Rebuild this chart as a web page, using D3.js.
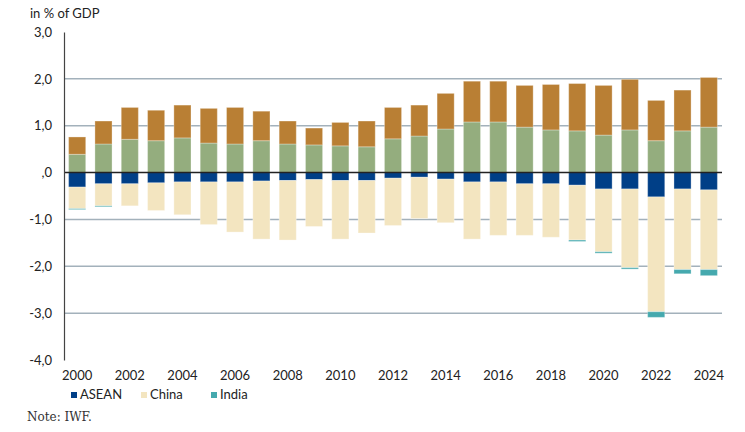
<!DOCTYPE html>
<html>
<head>
<meta charset="utf-8">
<script src="https://cdn.jsdelivr.net/npm/d3@7"></script>
<style>
  body { margin: 0; background: #fff; }
  svg { display: block; }
</style>
</head>
<body>
<div id="chart"></div>
<script>
"use strict";

// Data (segment sizes, in % of GDP)
const years = d3.range(2000, 2025).map(String);
const positiveBase = [0.39, 0.61, 0.71, 0.68, 0.74, 0.63, 0.61, 0.68, 0.61, 0.59, 0.57, 0.55, 0.72,
  0.78, 0.93, 1.08, 1.08, 0.97, 0.91, 0.89, 0.80, 0.91, 0.68, 0.89, 0.97];
const positiveTop = [0.37, 0.49, 0.68, 0.65, 0.70, 0.74, 0.78, 0.63, 0.49, 0.36, 0.50, 0.55, 0.67,
  0.66, 0.76, 0.87, 0.87, 0.89, 0.97, 1.01, 1.06, 1.08, 0.86, 0.87, 1.06];
const asean = [-0.31, -0.24, -0.24, -0.22, -0.20, -0.20, -0.20, -0.18, -0.17, -0.15, -0.17, -0.17, -0.12,
  -0.10, -0.14, -0.20, -0.20, -0.24, -0.24, -0.27, -0.35, -0.35, -0.52, -0.35, -0.37];
const china = [-0.46, -0.47, -0.47, -0.59, -0.70, -0.91, -1.07, -1.24, -1.27, -1.00, -1.25, -1.12, -1.01,
  -0.88, -0.93, -1.22, -1.14, -1.10, -1.14, -1.17, -1.34, -1.68, -2.45, -1.72, -1.70];
const india = [-0.02, -0.02, 0, 0, 0, 0, 0, 0, 0, 0, 0, 0, 0,
  0, 0, 0, 0, 0, 0, -0.03, -0.03, -0.03, -0.12, -0.09, -0.13];

const yTicks = [3, 2, 1, 0, -1, -2, -3, -4];
const yTickLabels = ["3,0", "2,0", "1,0", ",0", "-1,0", "-2,0", "-3,0", "-4,0"];
const xTickYears = years.filter((d, i) => i % 2 === 0);

const legendNames = ["ASEAN", "China", "India"];

// Series in stacking order (positive upwards, negative downwards)
const series = [
  { key: "positiveBase", values: positiveBase, color: "#94ad7e" },
  { key: "positiveTop", values: positiveTop, color: "#b97f34" },
  { key: "ASEAN", values: asean, color: "#003f87" },
  { key: "China", values: china, color: "#f3e5c0" },
  { key: "India", values: india, color: "#45a9ae" }
];

const width = 745;
const height = 432;
const margin = { top: 32, right: 23, bottom: 72, left: 64 };

const svg = d3.select("#chart")
  .append("svg")
  .attr("width", width)
  .attr("height", height)
  .style("font-family", "Lato, 'Open Sans', sans-serif");

const x = d3.scaleBand()
  .domain(years)
  .range([margin.left, width - margin.right])
  .paddingInner(0.35)
  .paddingOuter(0.175);

const y = d3.scaleLinear()
  .domain([-4, 3])
  .range([height - margin.bottom, margin.top]);

// Gridlines (not at the outer ticks)
svg.append("g")
  .selectAll("line")
  .data(yTicks.filter(d => d !== 0 && d !== 3 && d !== -4))
  .join("line")
  .attr("x1", margin.left)
  .attr("x2", width - margin.right)
  .attr("y1", d => y(d))
  .attr("y2", d => y(d))
  .attr("stroke", "#a3b1bb")
  .attr("stroke-width", 1.5);

// Stack positive and negative parts separately
const stackRows = years.map((yr, i) => {
  const row = { year: yr };
  series.forEach(s => { row[s.key] = s.values[i]; });
  return row;
});

const stacked = d3.stack()
  .keys(series.map(s => s.key))
  .offset(d3.stackOffsetDiverging)(stackRows);

svg.append("g")
  .selectAll("g")
  .data(stacked)
  .join("g")
  .attr("fill", (d, i) => series[i].color)
  .selectAll("rect")
  .data(d => d.filter(p => p[1] !== p[0]))
  .join("rect")
  .attr("x", d => x(d.data.year))
  .attr("width", x.bandwidth())
  .attr("y", d => y(Math.max(d[0], d[1])))
  .attr("height", d => Math.abs(y(d[0]) - y(d[1])))
  .attr("stroke", "#ffffff")
  .attr("stroke-opacity", 0.3)
  .attr("stroke-width", 1);

// Zero line
svg.append("line")
  .attr("x1", margin.left)
  .attr("x2", width - margin.right)
  .attr("y1", y(0))
  .attr("y2", y(0))
  .attr("stroke", "#222")
  .attr("stroke-width", 1.5);

// Y axis
const yAxis = svg.append("g")
  .attr("transform", `translate(${margin.left},0)`)
  .call(d3.axisLeft(y)
    .tickValues(yTicks)
    .tickSize(0)
    .tickPadding(12)
    .tickFormat((d, i) => yTickLabels[i]));
yAxis.select(".domain").attr("stroke", "#444").attr("stroke-width", 1.2);
yAxis.selectAll("text")
  .style("font-family", "Lato, sans-serif")
  .style("font-size", "13px")
  .attr("fill", "#222");

// X axis labels
const xAxis = svg.append("g")
  .attr("transform", `translate(0,${y(-4) + 5})`)
  .call(d3.axisBottom(x).tickValues(xTickYears).tickSize(0).tickPadding(6));
xAxis.select(".domain").remove();
xAxis.selectAll("text")
  .style("font-family", "Lato, sans-serif")
  .style("font-size", "13px")
  .attr("fill", "#222");

// Unit label
svg.append("text")
  .attr("x", 30)
  .attr("y", 18)
  .style("font-size", "13px")
  .attr("fill", "#222")
  .text("in % of GDP");

// Legend
const legend = svg.append("g")
  .attr("transform", "translate(71,392)")
  .selectAll("g")
  .data(legendNames)
  .join("g")
  .attr("transform", (d, i) => `translate(${i * 70},0)`);

legend.append("rect")
  .attr("width", 6)
  .attr("height", 6)
  .attr("fill", d => series.find(s => s.key === d).color);

legend.append("text")
  .attr("x", 9)
  .attr("y", 6.5)
  .style("font-size", "13px")
  .attr("fill", "#222")
  .text(d => d);

// Source note
svg.append("text")
  .attr("x", 27)
  .attr("y", 421)
  .style("font-family", "'DejaVu Serif', 'Liberation Serif', serif")
  .style("font-size", "12px")
  .attr("fill", "#333")
  .text("Note: IWF.");
</script>
</body>
</html>
